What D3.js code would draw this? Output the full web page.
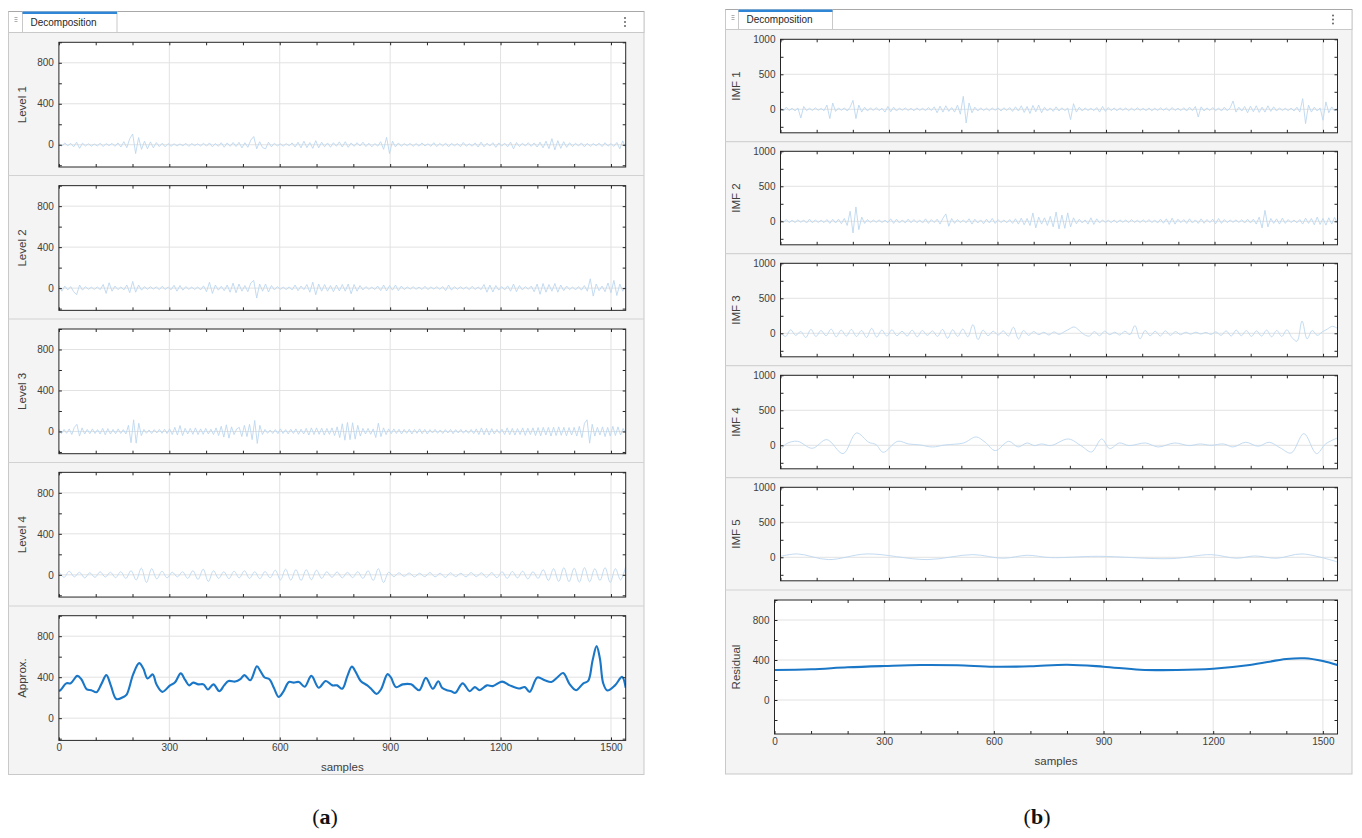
<!DOCTYPE html>
<html><head><meta charset="utf-8">
<script src="https://cdn.jsdelivr.net/npm/d3@7"></script>
<style>body{margin:0;background:#fff;} svg{display:block;font-family:"Liberation Sans",Arial,Helvetica,sans-serif;}</style>
</head><body><svg id="c" width="1362" height="838"></svg>
<script>
// ---------------- DATA ----------------
const XMAX = 1540;
const xTickLabels = [0, 300, 600, 900, 1200, 1500];
const levelNames = ["Level 1", "Level 2", "Level 3", "Level 4", "Approx."];
const imfNames = ["IMF 1", "IMF 2", "IMF 3", "IMF 4", "IMF 5", "Residual"];

const level1 = [12,-15,18,-10,14,-20,25,-35,16,-12,
10,-14,8,-12,15,-18,12,-9,14,-16,
18,-22,30,-28,60,105,-86,70,-45,35,
-40,28,-30,22,-18,15,-20,12,-15,10,
-12,8,-10,14,-16,12,-9,10,-12,15,
-14,18,-20,12,-15,20,-24,18,-16,22,
-18,24,-30,20,-25,45,80,-40,30,-28,
-40,25,-20,15,-12,10,-14,12,-10,18,
-22,25,-30,35,-28,22,-35,40,-30,25,
-20,18,-24,20,-15,28,-22,30,-25,18,
-16,20,-12,25,-18,15,-20,12,-14,30,
-45,73,-86,35,-20,18,-15,12,-10,14,
-16,12,-14,18,-12,10,-15,20,-18,14,
-12,16,-20,14,-10,12,-18,22,-15,10,
-14,18,-22,25,-20,15,-12,20,-25,18,
-14,16,-20,25,-40,22,-18,15,-12,20,
-16,18,-22,25,-30,35,-38,60,-50,40,
-35,30,-25,20,-18,15,-12,18,-20,14,
-16,12,-10,15,-18,20,-14,12,-16,22,
-40,38,-30];

const level2 = [25,-30,20,-18,15,-35,-65,30,-20,15,
-12,10,-14,12,-15,35,-52,52,-30,20,
-15,12,-18,30,-45,65,-40,30,-20,15,
-12,14,-10,12,-15,18,-14,12,-16,28,
-30,25,-20,15,-12,10,-14,12,-18,22,
-35,58,-52,30,-20,18,-25,30,-40,49,
-45,40,-30,25,-35,50,75,-97,40,-30,
40,-38,25,-18,15,-12,10,-14,12,-18,
30,-25,20,-15,35,-40,58,-65,40,-30,
35,-30,25,-35,30,-28,35,-30,40,-55,
35,-30,25,-18,15,-12,10,-14,20,-25,
30,-28,25,-20,30,-25,20,-15,12,-10,
14,-12,10,-14,18,-15,12,-10,14,-12,
15,-25,30,-20,15,-12,14,-10,12,-15,
18,-14,12,-15,35,-40,30,-38,25,-20,
15,-18,22,-30,40,-35,25,-18,15,-12,
20,-35,40,-60,45,-40,35,-30,45,-40,
30,-25,20,-15,12,-18,15,-20,25,-30,
91,-78,40,-25,20,-35,50,-45,75,-72,
40,-30,20];

const level3 = [25,-22,20,-18,25,-30,40,70,-45,35,
-25,20,-22,25,-20,18,-25,30,-32,28,
-25,20,-22,25,-20,18,-25,60,-110,114,
-114,80,-40,20,-18,15,-20,18,-15,20,
-18,22,-20,25,-30,40,-35,58,-40,30,
-25,30,-28,35,-30,25,-28,30,-25,22,
-30,35,-40,50,-55,65,-65,45,-30,25,
40,-50,60,-50,70,-80,107,-117,60,-30,
20,-18,15,-20,18,-22,25,-20,18,-25,
22,-20,25,-28,22,-25,30,-35,35,-30,
35,-28,32,-35,30,-28,35,-40,45,-60,
75,-85,88,-80,85,-75,60,-45,30,-25,
30,-28,25,-59,81,-50,35,-30,25,-22,
25,-20,22,-25,20,-18,22,-25,20,-18,
25,-22,20,-25,18,-15,20,-18,15,-20,
18,-15,20,-22,18,-15,20,-18,15,-18,
20,-22,25,-30,35,-32,30,-35,28,-25,
20,-18,22,-30,35,-32,30,-35,28,-30,
35,-38,32,-30,35,-40,38,-42,40,-35,
40,-45,42,-40,45,-38,40,-42,38,-35,
40,-45,50,-60,80,114,-114,70,-45,40,
-35,45,-50,40,-45,50,-40,45,-35,30,
-20];

const level4 = [30,-25,35,-20,25,-30,20,-25,30,-22,
25,-28,30,-35,40,-50,65,-75,60,-40,
35,-30,25,-20,30,-35,40,-45,55,-65,
40,-35,30,-38,35,-30,40,-35,30,-38,
32,-30,45,-50,55,-52,50,-55,50,-48,
45,-35,30,-25,28,-30,25,-28,30,-35,
40,-55,60,-75,25,-18,20,-15,18,-20,
15,-18,22,-20,15,-25,20,-18,15,-20,
22,-18,20,-25,22,-28,30,-35,32,-30,
35,-40,30,-35,50,-55,60,-65,70,-68,
65,-72,70,-68,60,-55,70,-75,60,-50,
80];

const approxX = [0,6,20,32,50,61,76,88,102,115,129,141,156,175,184,202,218,229,241,255,265,281,302,315,331,343,354,365,379,393,405,420,436,449,461,479,493,504,520,538,547,559,572,584,597,609,625,638,652,668,686,706,725,743,756,770,784,796,807,820,838,850,863,875,893,902,916,934,957,979,997,1016,1031,1041,1054,1066,1077,1097,1116,1130,1143,1163,1179,1204,1225,1250,1266,1279,1300,1320,1338,1354,1370,1388,1405,1425,1438,1450,1461,1470,1479,1490,1511,1530,1540];
const approxY = [263,280,340,340,413,380,280,273,253,330,420,320,187,207,230,430,537,487,387,427,330,257,320,347,437,373,320,347,330,330,280,330,263,320,363,357,380,420,370,507,463,397,380,297,207,253,353,347,353,307,413,297,363,320,320,287,413,503,447,363,320,280,237,280,430,397,303,330,330,273,393,287,360,297,273,263,247,340,263,303,273,320,313,357,320,290,303,257,397,370,353,397,440,330,273,340,363,563,703,580,340,270,320,403,297];

const imf1 = [20,-25,30,-18,15,-22,18,-124,40,-20,
15,-18,22,-15,12,-20,60,-133,90,-30,
18,-15,20,-25,30,128,-133,60,-40,30,
-25,20,-18,25,-20,15,-40,40,-35,30,
-25,18,-15,20,-18,15,-22,20,-16,14,
-20,25,-18,35,-50,45,-40,50,-30,25,
-40,60,-70,185,-195,90,-50,30,-25,20,
-18,15,-20,18,-15,20,-25,22,-18,25,
-30,35,-25,50,-45,40,-60,55,-35,60,
-50,30,-25,20,-30,35,-25,22,-20,18,
-148,80,-40,30,-25,20,-18,15,-20,25,
-40,40,-30,25,-20,18,-22,20,-15,18,
-20,15,-18,22,-16,14,-20,18,-22,15,
-18,20,-15,18,-22,25,-18,15,-20,22,
-25,30,-20,40,-110,35,-25,20,-18,25,
-20,18,-25,30,-22,20,119,-40,30,-25,
40,-50,45,-35,50,-45,30,-40,50,-30,
35,-25,20,-18,15,-20,18,-25,30,-40,
152,-205,60,-40,30,-25,20,-157,105,-50,
35,-25,20];

const imf2 = [20,-15,25,-20,15,-18,20,-15,18,-25,
30,-22,20,-18,15,-20,25,-30,28,-25,
30,-35,40,-60,143,-167,205,-120,60,-30,
25,-20,18,-15,20,-18,15,-20,35,-30,
30,-25,20,-25,30,-22,25,-20,18,-25,
35,-30,25,-20,30,-40,45,105,-71,40,
-30,25,-20,18,-22,35,-40,30,-25,20,
-35,30,-25,40,-30,25,-20,18,-22,25,
-30,35,-40,45,-50,40,-60,119,-95,60,
-40,50,-60,70,-80,133,-110,90,-100,120,
-80,50,-35,30,-25,20,-40,50,-45,35,
-25,20,-18,15,-20,18,-22,20,-15,18,
-20,25,-18,15,-20,22,-18,25,-20,18,
-25,30,-28,35,-45,45,-40,30,-20,25,
-30,35,-25,20,-30,35,-28,25,-20,30,
-35,40,-30,25,-20,18,-15,20,-18,22,
-25,30,-25,30,-40,60,-95,157,-80,40,
-30,35,-40,45,-30,25,-20,18,-22,25,
-40,45,-30,40,-50,60,-45,40,-55,50,
-40,55,-30];

const imf3 = [10,-45,50,-30,25,-60,55,-45,40,-35,
60,-50,45,-40,55,-45,40,-60,70,-55,
45,-40,50,-35,30,-40,45,-50,40,-30,
35,-45,55,-71,50,-45,60,-50,124,-90,
45,-35,30,-25,35,-40,86,-81,40,-30,
25,-20,15,-25,20,-15,20,60,90,40,
-20,-40,25,-35,30,-20,15,-25,30,-20,
110,-81,40,-35,30,-40,35,-30,25,-20,
15,-12,15,-10,12,-15,20,-30,35,-40,
45,-35,40,-45,35,-40,45,-50,40,-45,
50,-60,-114,176,-80,40,-30,20,60,100,
70];

const imf4X = [0,17,47,88,128,173,210,244,264,284,324,354,385,420,455,506,541,566,594,631,657,682,702,722,747,796,833,860,888,910,937,964,1009,1044,1090,1130,1160,1190,1225,1251,1286,1321,1351,1382,1412,1447,1482,1507,1540];
const imf4Y = [-62,24,57,-43,81,-119,176,43,10,-100,57,19,5,-24,5,33,119,43,-76,57,-24,33,-5,19,-5,90,-14,-95,90,-48,33,-5,33,-24,33,-5,19,0,19,-24,43,-14,43,-38,-110,167,-119,19,105];

const imf5X = [0,47,133,239,405,531,616,682,747,878,1080,1190,1261,1311,1372,1442,1540];
const imf5Y = [14,48,-33,48,-33,38,-14,29,-5,14,-19,38,-14,19,-14,48,-67];

const resX = [0,100,200,300,400,500,600,700,800,900,1000,1100,1200,1300,1400,1450,1500,1540];
const resY = [300,307,327,340,350,347,333,337,353,333,303,300,313,350,410,417,390,350];

// ---------------- DRAWING ----------------
const svg = d3.select("#c");
const TXT = "#404040";
const stepPts = arr => arr.map((v, i) => ({s: i * XMAX / (arr.length - 1), v}));
const xyPts = (xs, ys) => xs.map((s, i) => ({s, v: ys[i]}));

function frame(o) {
  const g = svg.append("g");
  g.append("rect").attr("x", o.x).attr("y", o.y).attr("width", o.w).attr("height", o.h)
    .attr("fill", "#f4f4f4").attr("stroke", "#c9c9c9");
  g.append("rect").attr("x", o.x).attr("y", o.y).attr("width", o.w).attr("height", o.tabH)
    .attr("fill", "#fff").attr("stroke", "#c9c9c9");
  g.append("line").attr("x1", o.x).attr("x2", o.x + o.w).attr("y1", o.y).attr("y2", o.y)
    .attr("stroke", "#a8a8a8").attr("stroke-width", 1);
  g.append("rect").attr("x", o.tabX).attr("y", o.y).attr("width", o.tabW).attr("height", o.tabH)
    .attr("fill", "#fff").attr("stroke", "#c9c9c9");
  g.append("rect").attr("x", o.tabX).attr("y", o.y).attr("width", o.tabW).attr("height", 2.5)
    .attr("fill", "#2f86d6");
  g.append("text").attr("x", o.tabX + 8).attr("y", o.y + o.tabH / 2 + 3.5)
    .attr("font-size", 10).attr("fill", "#262626").text("Decomposition");
  // grip
  [0, 2, 4].forEach(k => g.append("line").attr("x1", o.x + 6).attr("x2", o.x + 9)
    .attr("y1", o.y + 6 + k).attr("y2", o.y + 6 + k).attr("stroke", "#9a9a9a").attr("stroke-width", 0.8));
  // kebab
  [-4, 0, 4].forEach(k => g.append("circle").attr("cx", o.x + o.w - 19).attr("cy", o.y + o.tabH / 2 + k)
    .attr("r", 0.9).attr("fill", "#555"));
  o.seps.forEach(yy => g.append("line").attr("x1", o.x).attr("x2", o.x + o.w)
    .attr("y1", yy).attr("y2", yy).attr("stroke", "#d2d2d2").attr("stroke-width", 1.2));
}

let clipN = 0;
function sub(o) {
  const x = d3.scaleLinear().domain([0, XMAX]).range([o.x0, o.x1]);
  const y = d3.scaleLinear().domain(o.yd).range([o.top + o.h, o.top]);
  const g = svg.append("g");
  g.append("rect").attr("x", o.x0).attr("y", o.top).attr("width", o.x1 - o.x0).attr("height", o.h).attr("fill", "#fff");
  const xGrid = xTickLabels.filter(d => d > 0);
  g.append("g").selectAll("line").data(xGrid).join("line")
    .attr("x1", d => x(d)).attr("x2", d => x(d)).attr("y1", o.top).attr("y2", o.top + o.h)
    .attr("stroke", "#e2e2e2").attr("stroke-width", 1);
  g.append("g").selectAll("line").data(o.yGrid).join("line")
    .attr("x1", o.x0).attr("x2", o.x1).attr("y1", d => y(d)).attr("y2", d => y(d))
    .attr("stroke", "#e2e2e2").attr("stroke-width", 1);
  const id = "clip" + (clipN++);
  g.append("clipPath").attr("id", id).append("rect").attr("x", o.x0).attr("y", o.top).attr("width", o.x1 - o.x0).attr("height", o.h);
  const line = d3.line().x(d => x(d.s)).y(d => y(d.v)).curve(o.curve || d3.curveLinear);
  g.append("path").datum(o.data).attr("clip-path", `url(#${id})`).attr("d", line)
    .attr("fill", "none").attr("stroke", o.color).attr("stroke-width", o.sw)
    .attr("stroke-linejoin", "round");
  // axes
  const xt = d3.range(0, XMAX + 1, 100);
  const styleAx = sel => {
    sel.select(".domain").remove();
    sel.selectAll(".tick line").attr("stroke", "#262626");
    sel.selectAll("text").attr("fill", TXT).attr("font-size", 10).attr("font-family", "Liberation Sans, Arial, sans-serif");
  };
  g.append("g").attr("transform", `translate(0,${o.top + o.h})`)
    .call(d3.axisBottom(x).tickValues(xt).tickSize(-3).tickPadding(4)
      .tickFormat(d => (o.showX && xTickLabels.includes(d)) ? d : "")).call(styleAx);
  g.append("g").attr("transform", `translate(0,${o.top})`)
    .call(d3.axisTop(x).tickValues(xt).tickSize(-3).tickFormat("")).call(styleAx);
  g.append("g").attr("transform", `translate(${o.x0},0)`)
    .call(d3.axisLeft(y).tickValues(o.yTicks).tickSize(-3).tickPadding(5)
      .tickFormat(d => o.yLabels.includes(d) ? d : "")).call(styleAx);
  g.append("g").attr("transform", `translate(${o.x1},0)`)
    .call(d3.axisRight(y).tickValues(o.yTicks).tickSize(-3).tickFormat("")).call(styleAx);
  g.append("rect").attr("x", o.x0).attr("y", o.top).attr("width", o.x1 - o.x0).attr("height", o.h)
    .attr("fill", "none").attr("stroke", "#262626").attr("stroke-width", 1);
  g.append("text").attr("transform", `translate(${o.labelX},${o.top + o.h / 2}) rotate(-90)`)
    .attr("text-anchor", "middle").attr("dy", "0.35em").attr("font-size", 11.5).attr("fill", TXT).text(o.label);
  if (o.showX) {
    g.append("text").attr("x", (o.x0 + o.x1) / 2).attr("y", o.top + o.h + 31)
      .attr("text-anchor", "middle").attr("font-size", 11.5).attr("fill", TXT).text("samples");
  }
}

const PALE = "#bcd7ef", MAIN = "#1a76c6";

// Panel (a)
frame({x: 8.5, y: 11.5, w: 635.5, h: 763, tabH: 21, tabX: 22.5, tabW: 94.5, seps: [175.5, 319, 462.5, 606]});
const aSeries = [level1, level2, level3, level4];
const aTops = [42.3, 185.65, 329, 472.35, 615.7];
aTops.forEach((top, k) => {
  const isApprox = k === 4;
  sub({
    x0: 58.9, x1: 625.7, top, h: 124.7, yd: [-217, 1000],
    yTicks: [-200, 0, 200, 400, 600, 800, 1000], yLabels: [0, 400, 800], yGrid: [0, 400, 800],
    label: levelNames[k], labelX: 22, showX: isApprox,
    data: isApprox ? xyPts(approxX, approxY) : stepPts(aSeries[k]),
    curve: (isApprox || k === 3) ? d3.curveCatmullRom : d3.curveLinear,
    sw: isApprox ? 2.1 : 0.9, color: isApprox ? MAIN : PALE
  });
});

// Panel (b)
frame({x: 725.5, y: 9.5, w: 626.5, h: 764.5, tabH: 20, tabX: 738.5, tabW: 94, seps: [141.7, 253.7, 365.7, 477.7, 590]});
const bData = [stepPts(imf1), stepPts(imf2), stepPts(imf3), xyPts(imf4X, imf4Y), xyPts(imf5X, imf5Y)];
bData.forEach((data, k) => {
  sub({
    x0: 780.5, x1: 1337.5, top: 39.3 + 112 * k, h: 93.5, yd: [-336, 1000],
    yTicks: [-250, 0, 250, 500, 750, 1000], yLabels: [0, 500, 1000], yGrid: [0, 500, 1000],
    label: imfNames[k], labelX: 736, showX: false, data,
    curve: k >= 2 ? d3.curveCatmullRom : d3.curveLinear, sw: 0.9, color: PALE
  });
});
sub({
  x0: 774.5, x1: 1337.5, top: 600, h: 134, yd: [-340, 1000],
  yTicks: [-200, 0, 200, 400, 600, 800, 1000], yLabels: [0, 400, 800], yGrid: [0, 400, 800],
  label: imfNames[5], labelX: 736, showX: true, data: xyPts(resX, resY),
  curve: d3.curveCatmullRom, sw: 2.1, color: MAIN
});

// captions
[["a", 325], ["b", 1037]].forEach(([c, cx]) => {
  const t = svg.append("text").attr("x", cx).attr("y", 824).attr("text-anchor", "middle")
    .attr("font-family", "Liberation Serif, DejaVu Serif, serif").attr("font-size", 22).attr("fill", "#111");
  t.append("tspan").text("(");
  t.append("tspan").attr("font-weight", "bold").text(c);
  t.append("tspan").text(")");
});
</script>
</body></html>
